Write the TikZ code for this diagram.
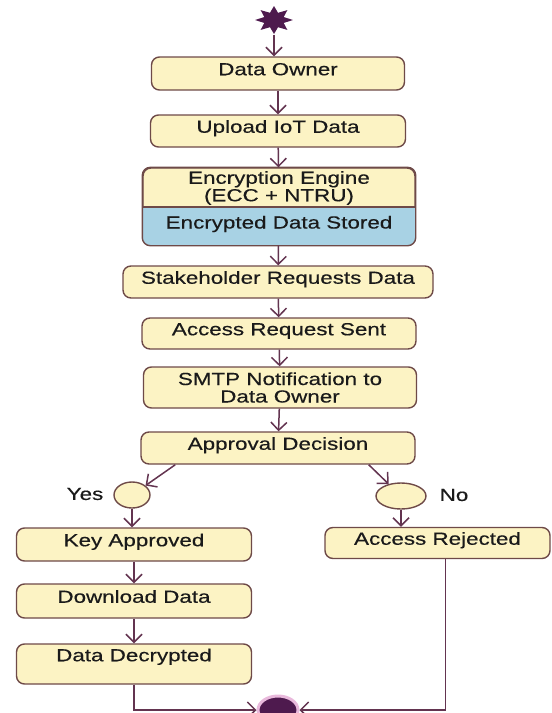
\documentclass[tikz,border=0pt]{standalone}
\usepackage{fontspec}
\setmainfont{Liberation Sans}[FakeStretch=1.28, FakeBold=0.4]
\usetikzlibrary{shapes.geometric,arrows.meta}
\definecolor{boxfill}{HTML}{FCF3C4}
\definecolor{boxline}{HTML}{6E4A48}
\definecolor{encblue}{HTML}{A8D2E4}
\definecolor{flow}{HTML}{633450}
\definecolor{endfill}{HTML}{4E1A4E}
\definecolor{endring}{HTML}{E9B9DC}
\definecolor{ink}{HTML}{1A1A1A}
\begin{document}
\begin{tikzpicture}[x=1pt, y=-1pt,
    font=\fontsize{17.5}{17.5}\selectfont, text=ink,
    act/.style={draw=boxline, fill=boxfill, line width=1.4pt, rounded corners=8pt, inner sep=3pt},
    act1/.style={act, text height=12.5pt, text depth=9pt},
    choice/.style={ellipse, draw=boxline, fill=boxfill, line width=1.4pt, inner sep=0pt},
    flowline/.style={draw=flow, line width=1.5pt, -{Straight Barb[length=8pt,width=16pt]}}]
\useasboundingbox (0,0) rectangle (552,713);
\node[star, star points=8, star point ratio=1.8, fill=endfill, minimum size=28pt, inner sep=0pt, xscale=1.35] (start) at (274,20) {};
\node[act1, minimum width=253pt, minimum height=33pt] (owner) at (278,73.5) {Data Owner};
\node[act1, minimum width=255pt, minimum height=32pt] (upload) at (278,131) {Upload IoT Data};
\node[act, minimum width=272pt, minimum height=77pt] (enc) at (279,206.5) {};
\begin{scope}
\clip[rounded corners=8pt] (enc.south west) rectangle (enc.north east);
\fill[encblue] (enc.south west) rectangle (enc.east |- 0,207);
\end{scope}
\draw[boxline, line width=1.4pt] (enc.west |- 0,207) -- (enc.east |- 0,207);
\draw[boxline, line width=1.4pt, rounded corners=8pt] (enc.south west) rectangle (enc.north east);
\node[align=center] (enctop) at (279,188) {Encryption Engine\\(ECC + NTRU)};
\node (encbot) at (279,224) {Encrypted Data Stored};
\node[act1, minimum width=310pt, minimum height=32pt] (stake) at (278,282) {Stakeholder Requests Data};
\node[act1, minimum width=274pt, minimum height=31pt] (req) at (279,333.5) {Access Request Sent};
\node[act, align=center, minimum width=273pt, minimum height=41pt] (smtp) at (280,387.5) {SMTP Notification to\\Data Owner};
\node[act1, minimum width=274pt, minimum height=32pt] (appr) at (278,448) {Approval Decision};
\node[choice, minimum width=36pt, minimum height=26pt] (yes) at (132,495) {};
\node[choice, minimum width=50pt, minimum height=26pt] (no) at (401,496) {};
\node (yeslbl) at (85,494) {Yes};
\node (nolbl) at (454,495) {No};
\node[act1, minimum width=235pt, minimum height=33pt] (key) at (134,544.5) {Key Approved};
\node[act1, minimum width=225pt, minimum height=31pt] (rej) at (437.5,543) {Access Rejected};
\node[act1, minimum width=235pt, minimum height=34pt] (down) at (134,601) {Download Data};
\node[act, minimum width=235pt, minimum height=40pt, text height=12.5pt, text depth=18pt] (dec) at (134,664) {Data Decrypted};
\node[ellipse, draw=endring, line width=3pt, fill=endfill, minimum width=40pt, minimum height=28pt] (stop) at (278,710) {};
\draw[flowline] (start) -- (start |- owner.north);
\draw[flowline] (owner) -- (upload);
\draw[flowline] (upload) -- (enc);
\draw[flowline] (enc) -- (stake);
\draw[flowline] (stake) -- (req);
\draw[flowline] (req) -- (smtp);
\draw[flowline] (smtp) -- (appr);
\draw[flowline] ([xshift=35pt]appr.south west) -- (yes);
\draw[flowline] ([xshift=-47pt]appr.south east) -- (no);
\draw[flowline] (yes) -- (yes |- key.north);
\draw[flowline] (no) -- (no |- rej.north);
\draw[flowline] (key) -- (down);
\draw[flowline] (down) -- (dec);
\draw[flowline] (dec) |- (stop);
\draw[flowline] ([xshift=8pt]rej.south) |- (stop);
\end{tikzpicture}
\end{document}
